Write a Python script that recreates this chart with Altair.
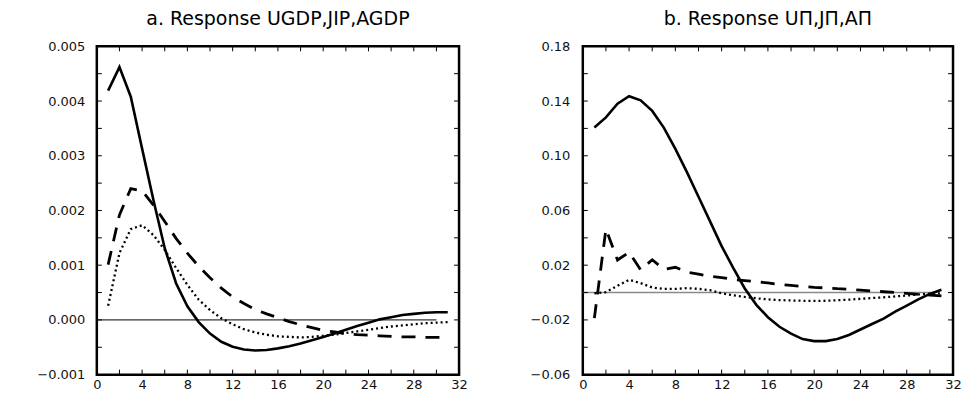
import altair as alt
import pandas as pd

# ---------------- data ----------------
periods = list(range(1, 32))

# panel a (values in units of 0.001)
a_solid = [4.19, 4.62, 4.08, 3.13, 2.19, 1.31, 0.67, 0.25, -0.04, -0.25, -0.40, -0.49,
           -0.54, -0.56, -0.55, -0.52, -0.48, -0.43, -0.37, -0.31, -0.25, -0.18, -0.11,
           -0.05, 0.01, 0.05, 0.09, 0.11, 0.13, 0.14, 0.14]
a_dashed = [1.01, 1.92, 2.40, 2.36, 2.10, 1.80, 1.49, 1.22, 0.98, 0.77, 0.58, 0.42, 0.30,
            0.19, 0.11, 0.04, -0.03, -0.09, -0.14, -0.19, -0.22, -0.25, -0.27, -0.28,
            -0.29, -0.30, -0.31, -0.31, -0.32, -0.32, -0.32]
a_dotted = [0.26, 1.22, 1.66, 1.73, 1.55, 1.28, 0.95, 0.64, 0.37, 0.18, 0.03, -0.08, -0.17,
            -0.23, -0.27, -0.30, -0.31, -0.32, -0.31, -0.29, -0.27, -0.24, -0.21, -0.18,
            -0.15, -0.12, -0.10, -0.08, -0.06, -0.05, -0.04]

# panel b
b_solid = [0.1206, 0.128, 0.138, 0.1435, 0.1405, 0.1328, 0.1206, 0.105, 0.088, 0.070,
           0.052, 0.034, 0.018, 0.003, -0.009, -0.018, -0.025, -0.030, -0.034, -0.0355,
           -0.0355, -0.034, -0.031, -0.027, -0.023, -0.019, -0.014, -0.0095, -0.005,
           -0.001, 0.002]
b_dashed = [-0.0187, 0.0465, 0.0238, 0.0295, 0.0166, 0.0240, 0.0170, 0.0185, 0.0150,
            0.0135, 0.0118, 0.0110, 0.0095, 0.0088, 0.0080, 0.0070, 0.0060, 0.0052,
            0.0045, 0.0038, 0.0034, 0.0028, 0.0024, 0.0018, 0.0012, 0.0006, 0.0000,
            -0.0006, -0.0014, -0.0018, -0.0024]
b_dotted = [-0.0005, 0.0003, 0.0050, 0.0093, 0.0069, 0.0037, 0.0027, 0.0027, 0.0032,
            0.0027, 0.0017, -0.0005, -0.0020, -0.0032, -0.0042, -0.0050, -0.0055,
            -0.0058, -0.0060, -0.0061, -0.0060, -0.0056, -0.0052, -0.0046, -0.0040,
            -0.0035, -0.0028, -0.0022, -0.0014, -0.0008, -0.0005]

title_a = "a. Response UGDP,JIP,AGDP"
title_b = "b. Response UΠ,JΠ,AΠ"

x_labels = [0, 4, 8, 12, 16, 20, 24, 28, 32]
x_ticks = list(range(0, 33, 2))

a_y_labels = [-0.001, 0.0, 0.001, 0.002, 0.003, 0.004, 0.005]
a_y_ticks = [round(-0.001 + 0.0005 * i, 4) for i in range(13)]
b_y_labels = [-0.06, -0.02, 0.02, 0.06, 0.10, 0.14, 0.18]
b_y_ticks = [round(-0.06 + 0.02 * i, 2) for i in range(13)]

FONT = "DejaVu Sans"


def make_df(solid, dashed, dotted, scale=1.0):
    rows = []
    for name, vals in (("solid", solid), ("dashed", dashed), ("dotted", dotted)):
        for t, v in zip(periods, vals):
            rows.append({"t": t, "v": v * scale, "s": name})
    return pd.DataFrame(rows)


def panel(df, title, ydom, ylabels, yticks, fmt, zero_color, zero_w, zero_end, w, h,
          label_pad, min_extent):
    xs = alt.Scale(domain=[0, 32], nice=False, zero=False)
    ys = alt.Scale(domain=ydom, nice=False, zero=False)
    xaxis = alt.Axis(values=x_labels, ticks=False, domain=False, grid=False, title=None,
                     labelFont=FONT, labelFontSize=13, labelColor="#111", labelPadding=4,
                     labelFlush=False)
    yaxis = alt.Axis(values=ylabels, format=fmt, ticks=False, domain=False, grid=False,
                     title=None, labelFont=FONT, labelFontSize=13, labelColor="#111",
                     labelPadding=label_pad, minExtent=min_extent, labelFlush=False)

    def X(f):
        return alt.X(f, type="quantitative", scale=xs, axis=xaxis)

    def Y(f):
        return alt.Y(f, type="quantitative", scale=ys, axis=yaxis)

    zero_df = pd.DataFrame({"x0": [0], "x1": [zero_end], "y": [0.0]})
    zero = alt.Chart(zero_df).mark_rule(color=zero_color, strokeWidth=zero_w).encode(
        x=X("x0"), x2="x1", y=Y("y"))

    styles = {
        "solid": dict(strokeWidth=2.6),
        "dashed": dict(strokeWidth=2.8, strokeDash=[14, 10]),
        "dotted": dict(strokeWidth=2.3, strokeDash=[2, 3]),
    }
    lines = []
    for name in ("dotted", "dashed", "solid"):
        lines.append(
            alt.Chart(df).transform_filter(alt.datum.s == name)
            .mark_line(color="black", strokeCap="butt", **styles[name])
            .encode(x=X("t"), y=Y("v"))
        )

    ydf = pd.DataFrame({"v": yticks})
    xdf = pd.DataFrame({"v": x_ticks})
    tl = 5
    left = alt.Chart(ydf).mark_rule(color="black", strokeWidth=1).encode(
        y=Y("v"), x=alt.value(0), x2=alt.value(tl))
    right = alt.Chart(ydf).mark_rule(color="black", strokeWidth=1).encode(
        y=Y("v"), x=alt.value(w - tl), x2=alt.value(w))
    bottom = alt.Chart(xdf).mark_rule(color="black", strokeWidth=1).encode(
        x=X("v"), y=alt.value(h - tl), y2=alt.value(h))
    top = alt.Chart(xdf).mark_rule(color="black", strokeWidth=1).encode(
        x=X("v"), y=alt.value(0), y2=alt.value(tl))

    return alt.layer(zero, *lines, left, right, bottom, top).properties(
        width=w, height=h,
        title=alt.TitleParams(title, font=FONT, fontSize=19, fontWeight="normal",
                              color="black", anchor="middle", offset=11),
    )


df_a = make_df(a_solid, a_dashed, a_dotted, scale=0.001)
df_b = make_df(b_solid, b_dashed, b_dotted)

pa = panel(df_a, title_a, [-0.001, 0.005], a_y_labels, a_y_ticks, ".3f",
           "black", 1, 30, 363, 329, 12, 87)
pb = panel(df_b, title_b, [-0.06, 0.18], b_y_labels, b_y_ticks, ".2f",
           "#8a8a8a", 1.6, 30.5, 371, 329, 13, 0)

chart = alt.hconcat(pa, pb, spacing=124, bounds="flush").properties(
    padding={"left": 0, "top": 0, "right": 0, "bottom": 0},
    background="white",
).configure_view(stroke="black", strokeWidth=2.5)

chart.save("out.html", embed_options={"renderer": "svg", "actions": False})
